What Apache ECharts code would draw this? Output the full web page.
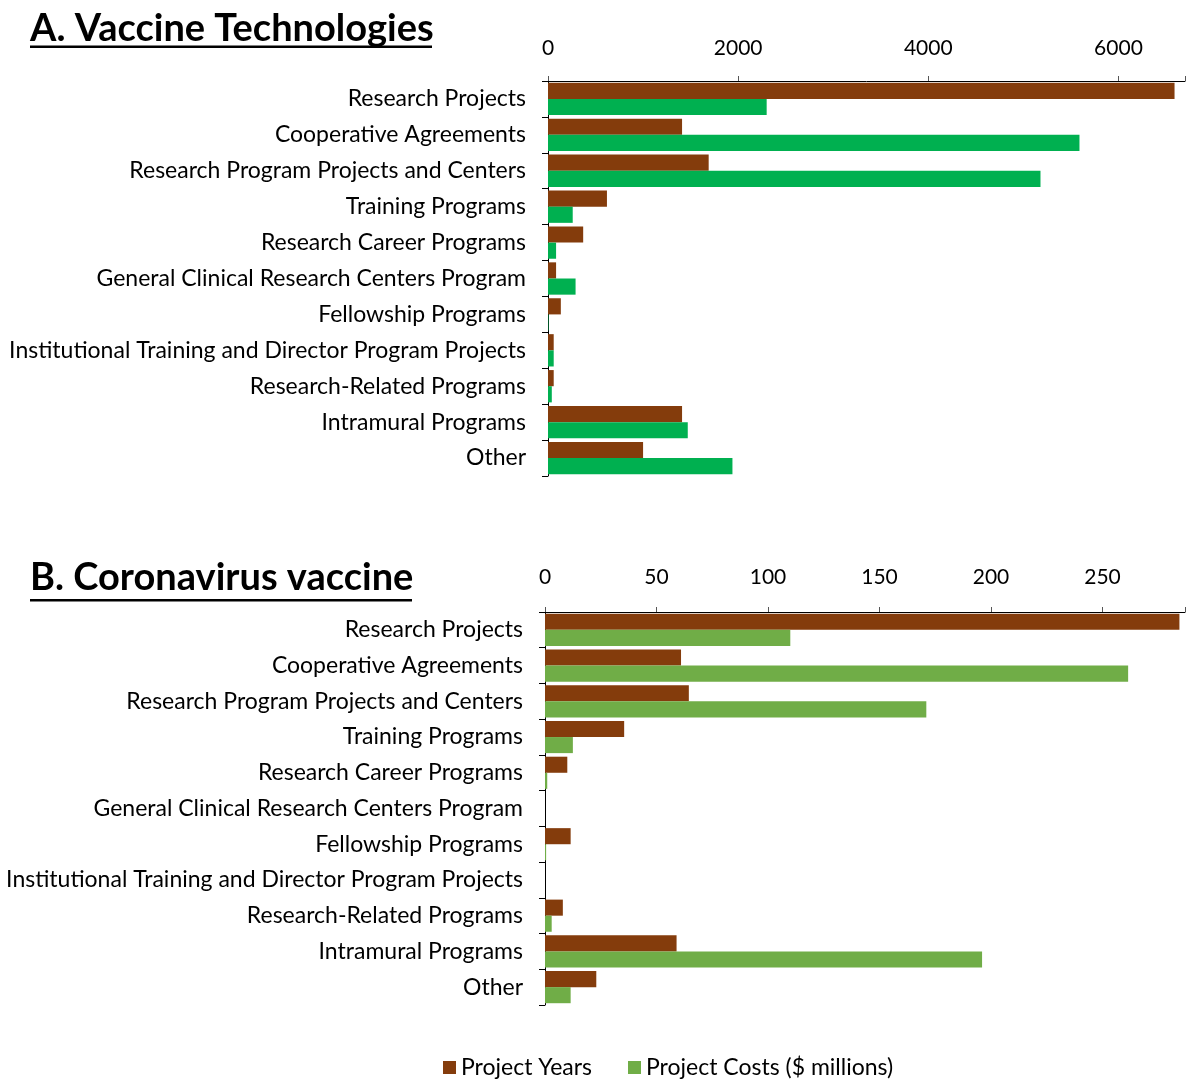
<!DOCTYPE html>
<html>
<head>
<meta charset="utf-8">
<script src="https://cdn.jsdelivr.net/npm/echarts@6/dist/echarts.min.js"></script>
<style>
  html, body { margin: 0; padding: 0; background: #fff; }
  #chart { width: 1188px; height: 1080px; }
</style>
</head>
<body>
<div id="chart"></div>
<script>
// categories, same for both panels (top to bottom)
var categories = [
    'Research Projects',
    'Cooperative Agreements',
    'Research Program Projects and Centers',
    'Training Programs',
    'Research Career Programs',
    'General Clinical Research Centers Program',
    'Fellowship Programs',
    'Institutional Training and Director Program Projects',
    'Research-Related Programs',
    'Intramural Programs',
    'Other'
];

// A. Vaccine Technologies
var vaccineYears = [6590, 1410, 1690, 620, 370, 85, 135, 60, 60, 1410, 1000];
var vaccineCosts = [2300, 5590, 5180, 260, 85, 290, 5, 60, 40, 1470, 1940];

// B. Coronavirus vaccine
var coronaYears = [284.5, 61, 64.5, 35.5, 10, 0, 11.5, 0, 8, 59, 23];
var coronaCosts = [110, 261.5, 171, 12.5, 1, 0, 0.5, 0, 3, 196, 11.5];

var vaccineTicks = [0, 2000, 4000, 6000];
var coronaTicks = [0, 50, 100, 150, 200, 250];

var seriesNames = ['Project Years', 'Project Costs ($ millions)'];

var brown = '#843C0C';
var greenA = '#00B050';
var greenB = '#70AD47';
var font = 'Lato';

var dom = document.getElementById('chart');
var myChart = echarts.init(dom, null, { renderer: 'canvas' });

function catAxis(gridIndex) {
    return {
        type: 'category',
        gridIndex: gridIndex,
        data: categories,
        inverse: true,
        axisLine: { lineStyle: { color: '#000', width: 1 } },
        axisTick: { show: true, length: 6, lineStyle: { color: '#000' } },
        axisLabel: { color: '#000', fontFamily: font, fontSize: 23, margin: 22 }
    };
}

function valAxis(gridIndex, max, ticks, margin) {
    return {
        type: 'value',
        gridIndex: gridIndex,
        position: 'top',
        min: 0,
        max: max,
        interval: ticks[1] - ticks[0],
        splitLine: { show: false },
        axisLine: { show: true, lineStyle: { color: '#000', width: 1 } },
        axisTick: { show: true, length: 5, lineStyle: { color: '#555' } },
        axisLabel: {
            color: '#000', fontFamily: font, fontSize: 21, margin: margin,
            formatter: function (v) { return ticks.indexOf(v) >= 0 ? String(v) : ''; }
        }
    };
}

function title(text, top, lineY, lineW) {
    return [
        {
            type: 'text', left: 30, top: top,
            style: { text: text, fill: '#000', font: 'bold 38px ' + font }
        },
        {
            type: 'rect', left: 30, top: lineY,
            shape: { width: lineW, height: 2.5 },
            style: { fill: '#000' }
        }
    ];
}

option = {
    animation: false,
    backgroundColor: '#fff',
    graphic: title('A. Vaccine Technologies', 10, 45.5, 402)
        .concat(title('B. Coronavirus vaccine', 559, 599, 382)),
    legend: {
        top: 1051,
        left: 438,
        itemWidth: 13,
        itemHeight: 13,
        itemGap: 36,
        icon: 'rect',
        textStyle: { color: '#000', fontFamily: font, fontSize: 23 },
        data: [
            { name: seriesNames[0], itemStyle: { color: brown } },
            { name: seriesNames[1], itemStyle: { color: greenB } }
        ]
    },
    grid: [
        { left: 548, top: 81, width: 640, height: 395 },
        { left: 545, top: 612, width: 643, height: 393 }
    ],
    yAxis: [catAxis(0), catAxis(1)],
    xAxis: [valAxis(0, 6700, vaccineTicks, 22), valAxis(1, 287, coronaTicks, 24)],
    series: [
        {
            name: seriesNames[0], type: 'bar', xAxisIndex: 0, yAxisIndex: 0,
            data: vaccineYears, itemStyle: { color: brown },
            barGap: '0%', barCategoryGap: '10%'
        },
        {
            name: seriesNames[1], type: 'bar', xAxisIndex: 0, yAxisIndex: 0,
            data: vaccineCosts, itemStyle: { color: greenA },
            barGap: '0%', barCategoryGap: '10%'
        },
        {
            name: seriesNames[0], type: 'bar', xAxisIndex: 1, yAxisIndex: 1,
            data: coronaYears, itemStyle: { color: brown },
            barGap: '0%', barCategoryGap: '10%'
        },
        {
            name: seriesNames[1], type: 'bar', xAxisIndex: 1, yAxisIndex: 1,
            data: coronaCosts, itemStyle: { color: greenB },
            barGap: '0%', barCategoryGap: '10%'
        }
    ]
};

myChart.setOption(option);
</script>
</body>
</html>
